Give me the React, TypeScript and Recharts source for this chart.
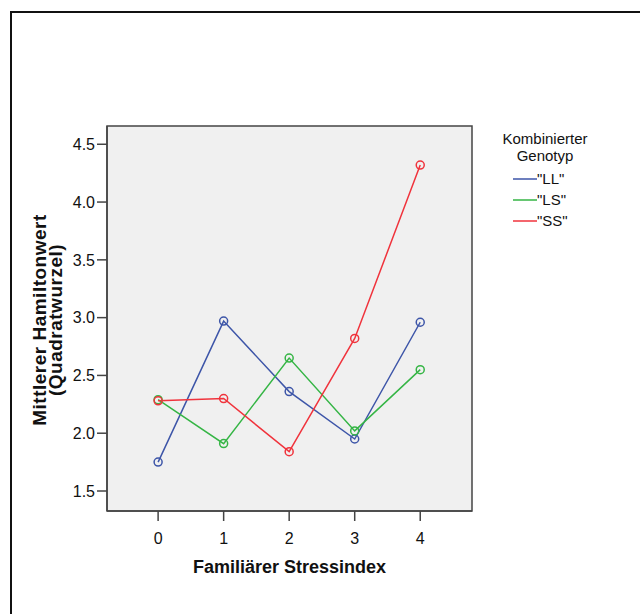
import React from 'react'
import {
  LineChart,
  Line,
  XAxis,
  YAxis,
  ReferenceArea,
  Label,
} from 'recharts'

// Familiärer Stressindex (x categories)
const stressIndex = [0, 1, 2, 3, 4]
const yTicks = [1.5, 2.0, 2.5, 3.0, 3.5, 4.0, 4.5]

// Mittlerer Hamiltonwert (Quadratwurzel) per genotype
const valuesLL = [1.75, 2.97, 2.36, 1.95, 2.96]
const valuesLS = [2.29, 1.91, 2.65, 2.02, 2.55]
const valuesSS = [2.28, 2.3, 1.84, 2.82, 4.32]

const seriesNames = ['"LL"', '"LS"', '"SS"']
const seriesKeys = ['ll', 'ls', 'ss']
const seriesColors = ['#3d55a8', '#35b545', '#f0333c']

const xDomain: [number, number] = [-0.78, 4.79]
const yDomain: [number, number] = [1.327, 4.658]

const data = stressIndex.map((x, i) => ({
  x,
  ll: valuesLL[i],
  ls: valuesLS[i],
  ss: valuesSS[i],
}))

const font = '"Liberation Sans", Arial, sans-serif'

// legend drawn outside the chart so it takes no room from the plot
function GenotypLegend() {
  return (
    <div
      style={{
        position: 'absolute',
        left: 490,
        top: 130,
        width: 110,
        fontFamily: font,
        fontSize: 15,
        color: '#111',
      }}
    >
      <div style={{ textAlign: 'center', lineHeight: '17px' }}>Kombinierter</div>
      <div style={{ textAlign: 'center', lineHeight: '17px', marginBottom: 4 }}>Genotyp</div>
      {seriesNames.map((name, i) => (
        <div key={name} style={{ display: 'flex', alignItems: 'center', height: 21, paddingLeft: 23 }}>
          <svg width={24} height={4} style={{ display: 'block' }}>
            <line x1={0} y1={2} x2={24} y2={2} stroke={seriesColors[i]} strokeWidth={1.5} />
          </svg>
          <span>{name}</span>
        </div>
      ))}
    </div>
  )
}

function YLabel() {
  return (
    <text
      transform="translate(45.5, 320) rotate(-90)"
      textAnchor="middle"
      fontFamily={font}
      fontWeight="bold"
      fontSize={19}
      letterSpacing={0.5}
      fill="#111"
    >
      <tspan x={0} dy={0}>Mittlerer Hamiltonwert</tspan>
      <tspan x={0} dy={16.5}>(Quadratwurzel)</tspan>
    </text>
  )
}

export default function App() {
  return (
    <div style={{ position: 'absolute', left: 0, top: 0, width: 640, height: 614, background: '#fff', overflow: 'hidden' }}>
      <div
        style={{
          position: 'absolute',
          left: 10,
          top: 11,
          width: 640,
          height: 614,
          borderTop: '2px solid #111',
          borderLeft: '2px solid #111',
        }}
      />
      <div style={{ position: 'absolute', left: 0, top: 0 }}>
        <LineChart width={640} height={614} data={data} margin={{ top: 126, right: 168, bottom: 73, left: 47 }}>
          <ReferenceArea
            x1={xDomain[0]}
            x2={xDomain[1]}
            y1={yDomain[0]}
            y2={yDomain[1]}
            fill="#f0f0f0"
            fillOpacity={1}
            stroke="#444"
            strokeWidth={1.5}
          />
          <XAxis
            type="number"
            dataKey="x"
            domain={xDomain}
            ticks={stressIndex}
            allowDataOverflow
            height={30}
            tickSize={10}
            tickMargin={12}
            axisLine={{ stroke: '#444', strokeWidth: 1.5 }}
            tickLine={{ stroke: '#444', strokeWidth: 1.5 }}
            tick={{ fontSize: 16, fontFamily: font, fill: '#111' }}
          >
            <Label
              value="Familiärer Stressindex"
              position="bottom"
              offset={19}
              style={{ fontSize: 18, fontWeight: 'bold', fontFamily: font, fill: '#111' }}
            />
          </XAxis>
          <YAxis
            type="number"
            domain={yDomain}
            ticks={yTicks}
            allowDataOverflow
            width={60}
            tickSize={10}
            tickMargin={2}
            tickFormatter={(v: number) => v.toFixed(1)}
            axisLine={{ stroke: '#444', strokeWidth: 1.5 }}
            tickLine={{ stroke: '#444', strokeWidth: 1.5 }}
            tick={{ fontSize: 16, fontFamily: font, fill: '#111' }}
          >
            <Label content={<YLabel />} />
          </YAxis>
          {seriesKeys.map((k, i) => (
            <Line
              key={k}
              dataKey={k}
              name={seriesNames[i]}
              stroke={seriesColors[i]}
              strokeWidth={1.5}
              dot={{ r: 4, fill: 'none', stroke: seriesColors[i], strokeWidth: 1.5 }}
              activeDot={false}
              isAnimationActive={false}
            />
          ))}
        </LineChart>
      </div>
      <GenotypLegend />
    </div>
  )
}
